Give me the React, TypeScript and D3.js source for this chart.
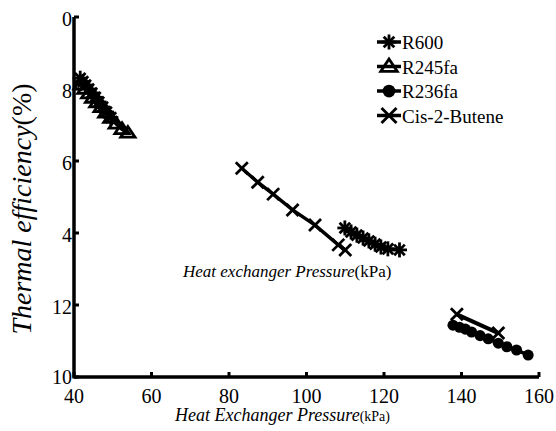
import React from "react";
import * as d3 from "d3";

const xTicks = [40, 60, 80, 100, 120, 140, 160];
const yTicks = [10, 12, 14, 16, 18, 20];
const yTickLabels = ["10", "12", "4", "6", "8", "0"];

// Left cluster
const r245faX = [41.8, 42.8, 43.8, 44.8, 45.9, 47.0, 48.2, 49.5, 50.9, 52.4, 53.9];
const r245faY = [18.12, 18.0, 17.87, 17.75, 17.62, 17.49, 17.34, 17.19, 17.03, 16.88, 16.78];
const r600LeftX = [41.6, 42.3, 43.0, 43.8, 44.6, 45.5, 46.4, 47.4, 48.4, 49.5];
const r600LeftY = [18.3, 18.21, 18.11, 18.0, 17.89, 17.77, 17.64, 17.5, 17.36, 17.21];

// Middle cluster
const cisMidX = [83.3, 87.4, 91.4, 96.4, 102.2, 108.2, 110.0];
const cisMidY = [15.8, 15.41, 15.08, 14.64, 14.22, 13.67, 13.53];
const r600MidX = [109.9, 111.5, 113.0, 114.6, 116.1, 117.7, 119.2, 121.0, 124.0];
const r600MidY = [14.14, 14.03, 13.94, 13.86, 13.78, 13.69, 13.61, 13.56, 13.53];

// Right cluster
const r236faX = [137.8, 139.5, 141.0, 142.6, 144.8, 146.9, 149.5, 151.7, 154.2, 157.2];
const r236faY = [11.44, 11.38, 11.33, 11.25, 11.15, 11.06, 10.94, 10.84, 10.75, 10.61];
const cisRightX = [138.8, 149.5];
const cisRightY = [11.74, 11.22];

const legendNames = ["R600", "R245fa", "R236fa", "Cis-2-Butene"];

const W = 556;
const H = 431;
const x = d3.scaleLinear().domain([40, 160]).range([74, 539]);
const y = d3.scaleLinear().domain([10, 20]).range([377, 17]);

type Shape = "asterisk" | "triangle" | "circle" | "cross";

function Marker({ cx, cy, shape, r = 6 }: { cx: number; cy: number; shape: Shape; r?: number }) {
  if (shape === "circle") return <circle cx={cx} cy={cy} r={r * 0.85} fill="#000" />;
  if (shape === "triangle") {
    const p = `${cx},${cy - r} ${cx - r * 1.1},${cy + r * 0.65} ${cx + r * 1.1},${cy + r * 0.65}`;
    return <polygon points={p} fill="none" stroke="#000" strokeWidth={2.8} strokeLinejoin="miter" />;
  }
  if (shape === "cross") {
    return (
      <g stroke="#000" strokeWidth={2.8}>
        <line x1={cx - r} y1={cy - r} x2={cx + r} y2={cy + r} />
        <line x1={cx - r} y1={cy + r} x2={cx + r} y2={cy - r} />
      </g>
    );
  }
  const spokes = [0, 45, 90, 135];
  return (
    <g stroke="#000" strokeWidth={2.8}>
      {spokes.map((a) => {
        const rad = (a * Math.PI) / 180;
        return (
          <line key={a} x1={cx - r * Math.cos(rad)} y1={cy - r * Math.sin(rad)} x2={cx + r * Math.cos(rad)} y2={cy + r * Math.sin(rad)} />
        );
      })}
    </g>
  );
}

function Series({ xs, ys, shape, r, lw = 3.5 }: { xs: number[]; ys: number[]; shape: Shape; r?: number; lw?: number }) {
  const pts = xs.map((v, i) => [x(v), y(ys[i])] as [number, number]);
  const path = d3.line()(pts) || "";
  return (
    <g>
      <path d={path} fill="none" stroke="#000" strokeWidth={lw} />
      {pts.map((p, i) => <Marker key={i} cx={p[0]} cy={p[1]} shape={shape} r={r} />)}
    </g>
  );
}

const serif = '"Liberation Serif"';

export default function App() {
  const legendShapes: Shape[] = ["asterisk", "triangle", "circle", "cross"];
  return (
    <svg width={W} height={H} style={{ position: "absolute", left: 0, top: 0, background: "#fff", fontFamily: serif }}>
      <rect width={W} height={H} fill="#fff" />
      {/* data */}
      <Series xs={r600LeftX} ys={r600LeftY} shape="asterisk" r={7.5} />
      <Series xs={r245faX} ys={r245faY} shape="triangle" r={6.5} />
      <Series xs={cisMidX} ys={cisMidY} shape="cross" r={6} />
      <Series xs={r600MidX} ys={r600MidY} shape="asterisk" r={7.5} />
      <Series xs={cisRightX} ys={cisRightY} shape="cross" r={6} lw={4} />
      <Series xs={r236faX} ys={r236faY} shape="circle" r={6.5} />

      {/* axes */}
      <line x1={x(40)} x2={x(160)} y1={y(10)} y2={y(10)} stroke="#000" strokeWidth={3.5} />
      <line x1={x(40)} x2={x(40)} y1={y(10) + 1.5} y2={y(20)} stroke="#000" strokeWidth={3.5} />
      {xTicks.map((t) => (
        <g key={t}>
          <line x1={x(t)} x2={x(t)} y1={y(10)} y2={y(10) - 5} stroke="#000" strokeWidth={3} />
          <text x={x(t)} y={403} textAnchor="middle" fontSize={20} style={{ fontFamily: serif }}>{t}</text>
        </g>
      ))}
      {yTicks.map((t, i) => (
        <g key={t}>
          <line x1={x(40)} x2={x(40) + 5} y1={y(t)} y2={y(t)} stroke="#000" strokeWidth={3} />
          <text x={72} y={y(t) + (i === 0 ? 7 : 9)} textAnchor="end" fontSize={20} style={{ fontFamily: serif }}>{yTickLabels[i]}</text>
        </g>
      ))}

      {/* axis titles */}
      <text x={175} y={421} fontSize={18} style={{ fontFamily: serif }}>
        <tspan fontStyle="italic">Heat Exchanger Pressure</tspan>
        <tspan fontSize={14}>(kPa)</tspan>
      </text>
      <text transform="translate(31,209) rotate(-90)" textAnchor="middle" fontSize={28} style={{ fontFamily: serif }}>
        <tspan fontStyle="italic">Thermal efficiency</tspan>
        <tspan>(%)</tspan>
      </text>
      <text x={183} y={277} fontSize={17} style={{ fontFamily: serif }}>
        <tspan fontStyle="italic">Heat exchanger Pressure</tspan>
        <tspan>(kPa)</tspan>
      </text>

      {/* legend */}
      {legendNames.map((n, i) => {
        const ly = 42 + i * 24.5;
        return (
          <g key={n}>
            <line x1={377} x2={401} y1={ly} y2={ly} stroke="#000" strokeWidth={3.5} />
            <Marker cx={389} cy={ly} shape={legendShapes[i]} r={7.5} />
            <text x={402} y={ly + 7} fontSize={19} style={{ fontFamily: serif }}>{n}</text>
          </g>
        );
      })}
    </svg>
  );
}
